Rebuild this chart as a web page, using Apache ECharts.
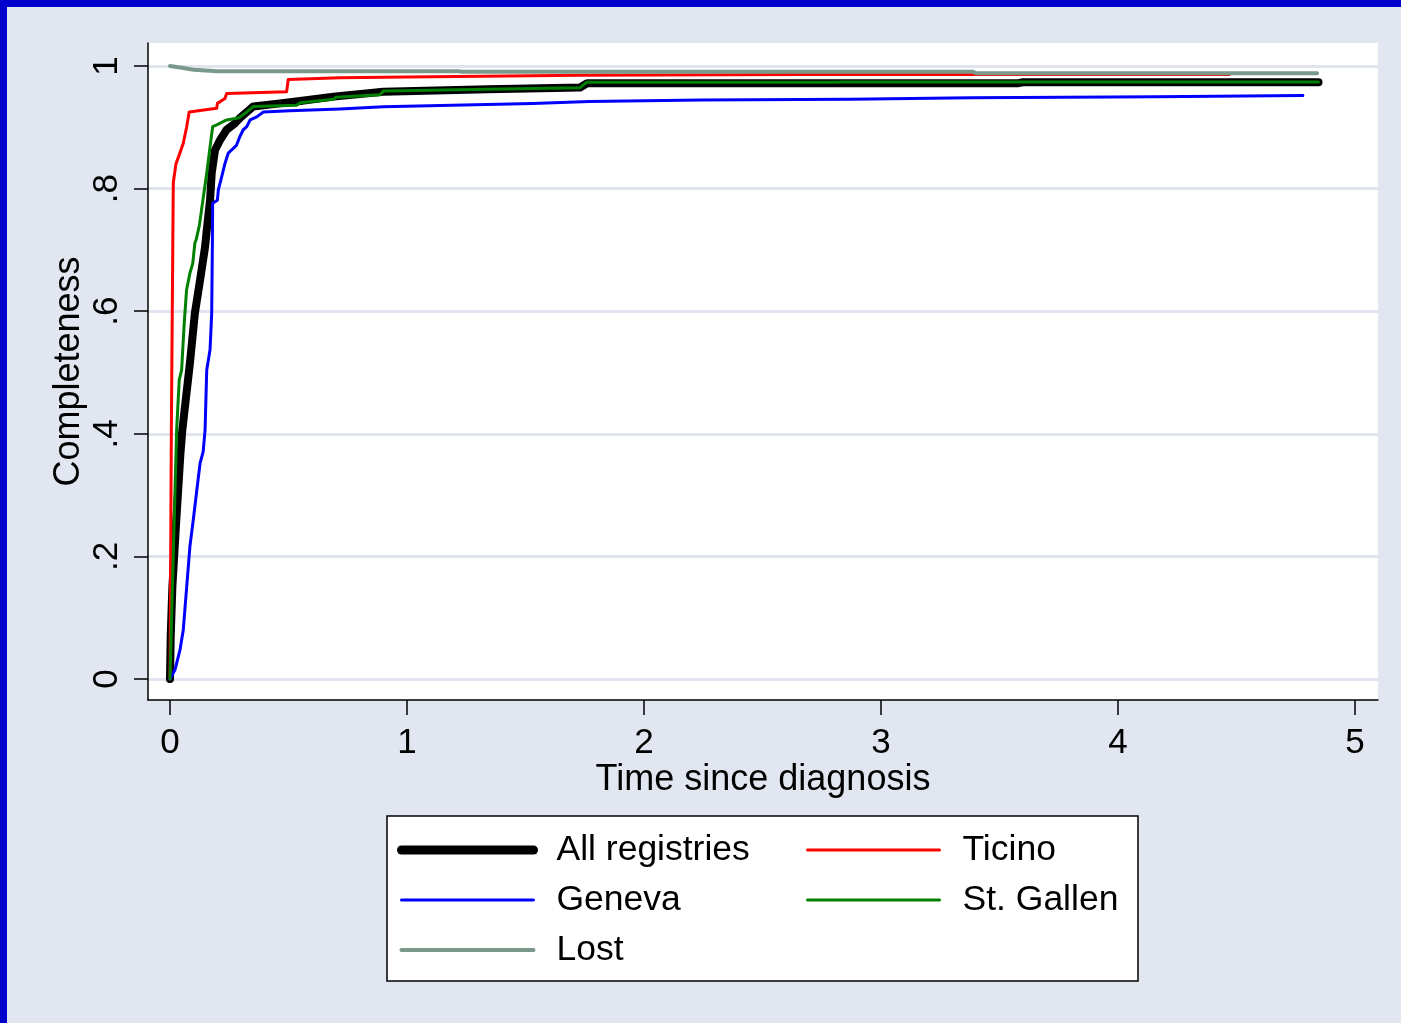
<!DOCTYPE html>
<html>
<head>
<meta charset="utf-8">
<script src="https://cdn.jsdelivr.net/npm/echarts@6.0.0/dist/echarts.min.js"></script>
<style>
html,body{margin:0;padding:0;background:#0000cc;width:1401px;height:1023px;overflow:hidden;}
#chart{position:absolute;left:7px;top:7px;width:1394px;height:1016px;}
</style>
</head>
<body>
<div id="chart"></div>
<script>
// ---- data ----
const xTicks = [0, 1, 2, 3, 4, 5];
const xTickLabels = ['0', '1', '2', '3', '4', '5'];
const yTicks = [0, 0.2, 0.4, 0.6, 0.8, 1];
const yTickLabels = ['0', '.2', '.4', '.6', '.8', '1'];

const seriesNames = ['All registries', 'Ticino', 'Geneva', 'St. Gallen', 'Lost'];

const tAll = [0, 0.003, 0.01, 0.024, 0.044, 0.052, 0.084, 0.105, 0.127, 0.148, 0.155, 0.169, 0.176, 0.19, 0.211, 0.239, 0.274, 0.295, 0.324, 0.352, 0.464, 0.549, 0.69, 0.9, 1.34, 1.73, 1.76, 3.58, 3.6, 4.846];
const vAll = [0, 0.07, 0.15, 0.243, 0.368, 0.406, 0.515, 0.597, 0.651, 0.705, 0.732, 0.781, 0.825, 0.863, 0.879, 0.896, 0.9065, 0.915, 0.925, 0.934, 0.939, 0.943, 0.95, 0.958, 0.962, 0.965, 0.9718, 0.972, 0.9734, 0.9734];

const tTicino = [0, 0.006, 0.012, 0.014, 0.025, 0.039, 0.056, 0.07, 0.081, 0.197, 0.2, 0.232, 0.239, 0.492, 0.499, 0.717, 1.0, 1.74, 2.66, 4.47];
const vTicino = [0, 0.42, 0.72, 0.81, 0.84, 0.855, 0.874, 0.9, 0.925, 0.931, 0.939, 0.947, 0.955, 0.958, 0.978, 0.981, 0.982, 0.985, 0.986, 0.986];

const tGeneva = [0, 0.021, 0.042, 0.056, 0.084, 0.098, 0.12, 0.127, 0.14, 0.148, 0.155, 0.169, 0.176, 0.179, 0.18, 0.2, 0.204, 0.218, 0.232, 0.246, 0.26, 0.281, 0.295, 0.309, 0.324, 0.338, 0.366, 0.394, 0.506, 0.717, 0.9, 1.53, 1.77, 2.24, 2.87, 3.38, 4.16, 4.78];
const vGeneva = [0, 0.015, 0.047, 0.08, 0.216, 0.259, 0.33, 0.352, 0.371, 0.406, 0.504, 0.537, 0.597, 0.716, 0.776, 0.781, 0.798, 0.819, 0.841, 0.858, 0.863, 0.871, 0.885, 0.896, 0.901, 0.912, 0.917, 0.925, 0.927, 0.930, 0.9335, 0.939, 0.942, 0.9445, 0.9457, 0.948, 0.95, 0.9517];

const tStGallen = [0, 0.014, 0.028, 0.039, 0.049, 0.06, 0.07, 0.084, 0.096, 0.105, 0.11, 0.124, 0.141, 0.155, 0.169, 0.18, 0.197, 0.239, 0.288, 0.324, 0.352, 0.534, 0.55, 0.69, 0.7, 0.886, 0.9, 1.336, 1.73, 1.758, 2.82, 2.83, 4.846];
const vStGallen = [0, 0.205, 0.406, 0.488, 0.504, 0.58, 0.635, 0.662, 0.678, 0.711, 0.716, 0.74, 0.787, 0.825, 0.868, 0.901, 0.904, 0.912, 0.915, 0.925, 0.934, 0.936, 0.94, 0.9457, 0.949, 0.953, 0.959, 0.962, 0.9646, 0.9734, 0.9734, 0.974, 0.974];

const tLost = [0, 0.05, 0.1, 0.2, 1.22, 1.23, 3.39, 3.4, 4.84];
const vLost = [1, 0.997, 0.994, 0.9915, 0.9915, 0.9905, 0.9905, 0.988, 0.988];

// ---- build ----
const zip = (t, v) => t.map((x, i) => [x, v[i]]);
const FONT = '"Liberation Sans", Arial, Helvetica, sans-serif';

const chart = echarts.init(document.getElementById('chart'), null, {renderer: 'canvas'});

function line(name, t, v, color, width, z) {
  return {
    name, type: 'line', data: zip(t, v), symbol: 'none', showSymbol: false,
    lineStyle: {color, width, cap: 'round', join: 'round'}, itemStyle: {color},
    z, animation: false, silent: true
  };
}

const legendText = {fontSize: 35.5, color: '#000', fontFamily: FONT, lineHeight: 40, padding: [0, 0, 0, 18]};
const noSym = {opacity: 0, borderWidth: 0};

const option = {
  backgroundColor: '#e1e6f0',
  animation: false,
  textStyle: {fontFamily: FONT},
  grid: {
    left: 141, top: 36, width: 1230, height: 657,
    show: true, backgroundColor: '#ffffff', borderWidth: 0,
    containLabel: false
  },
  xAxis: {
    type: 'value', min: -0.0928, max: 5.097,
    name: 'Time since diagnosis', nameLocation: 'middle', nameGap: 62, nameMoveOverlap: false,
    nameTextStyle: {fontSize: 36, color: '#000', fontFamily: FONT},
    axisLine: {show: true, onZero: false, lineStyle: {color: '#000', width: 1.5}},
    axisTick: {show: true, length: 15, lineStyle: {color: '#000', width: 1.5}, customValues: xTicks},
    axisLabel: {show: true, fontSize: 35, color: '#000', fontFamily: FONT, margin: 26,
      customValues: xTicks, formatter: (val) => xTickLabels[xTicks.indexOf(val)] ?? ''},
    splitLine: {show: false}
  },
  yAxis: {
    type: 'value', min: -0.03426, max: 1.0375,
    name: 'Completeness', nameLocation: 'middle', nameGap: 61, nameRotate: 90, nameMoveOverlap: false,
    nameTextStyle: {fontSize: 36, color: '#000', fontFamily: FONT},
    axisLine: {show: true, onZero: false, lineStyle: {color: '#000', width: 1.5}},
    axisTick: {show: true, length: 14, lineStyle: {color: '#000', width: 1.5}, customValues: yTicks},
    axisLabel: {show: true, fontSize: 35, color: '#000', fontFamily: FONT, margin: 23, rotate: 90,
      customValues: yTicks, formatter: (val) => {
        const i = yTicks.findIndex(y => Math.abs(y - val) < 1e-9);
        return i >= 0 ? yTickLabels[i] : '';
      }},
    splitLine: {show: true, lineStyle: {color: '#dfe4ee', width: 3}}
  },
  graphic: [{
    type: 'rect', z: 0, zlevel: 0, silent: true,
    shape: {x: 380, y: 809, width: 751, height: 165},
    style: {fill: '#ffffff', stroke: '#000000', lineWidth: 1.5}
  }],
  legend: [{
    orient: 'vertical', left: 390, top: 823, padding: 0, itemGap: 10,
    itemWidth: 132, itemHeight: 14, selectedMode: false, z: 10,
    textStyle: legendText, itemStyle: noSym,
    data: [
      {name: seriesNames[0], lineStyle: {width: 9, cap: 'round'}, itemStyle: noSym},
      {name: seriesNames[2], lineStyle: {width: 3}, itemStyle: noSym},
      {name: seriesNames[4], lineStyle: {width: 4, cap: 'round'}, itemStyle: noSym}
    ]
  }, {
    orient: 'vertical', left: 799, top: 823, padding: 0, itemGap: 10,
    itemWidth: 132, itemHeight: 14, selectedMode: false, z: 10,
    textStyle: legendText, itemStyle: noSym,
    data: [
      {name: seriesNames[1], lineStyle: {width: 3}, itemStyle: noSym},
      {name: seriesNames[3], lineStyle: {width: 3}, itemStyle: noSym}
    ]
  }],
  series: [
    line(seriesNames[0], tAll, vAll, '#000000', 8, 2),
    line(seriesNames[1], tTicino, vTicino, '#ff0000', 3, 3),
    line(seriesNames[2], tGeneva, vGeneva, '#0000ff', 3, 4),
    line(seriesNames[3], tStGallen, vStGallen, '#008000', 3, 5),
    line(seriesNames[4], tLost, vLost, '#7a998b', 4, 6)
  ]
};
chart.setOption(option);
</script>
</body>
</html>
